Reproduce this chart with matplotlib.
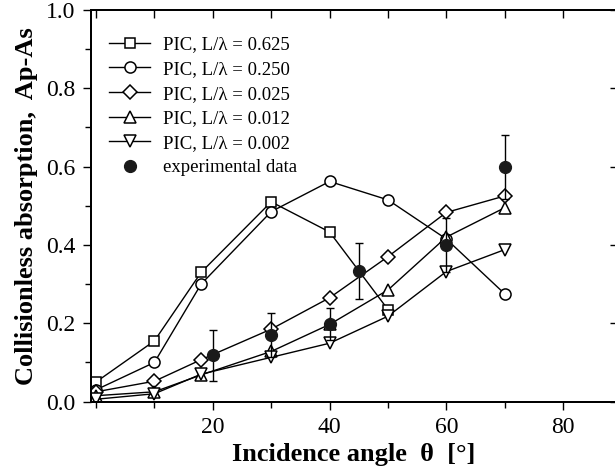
import matplotlib
matplotlib.use("Agg")
import matplotlib.pyplot as plt
from matplotlib.ticker import MultipleLocator, NullFormatter

plt.rcParams['font.family'] = ['Liberation Serif', 'DejaVu Serif']

# valores
angles = [0, 10, 18, 30, 40, 50, 60, 70]
pic_0625 = [0.05, 0.155, 0.33, 0.51, 0.433, 0.235]
pic_0250 = [0.03, 0.10, 0.30, 0.485, 0.562, 0.515, 0.415, 0.275]
pic_0025 = [0.025, 0.052, 0.107, 0.185, 0.265, 0.37, 0.483, 0.525]
pic_0012 = [0.015, 0.025, 0.068, 0.128, 0.197, 0.285, 0.42, 0.495]
pic_0002 = [0.006, 0.02, 0.07, 0.113, 0.149, 0.218, 0.332, 0.388]

exp_angles = [20, 30, 40, 45, 60, 70]
exp_values = [0.118, 0.17, 0.198, 0.334, 0.40, 0.598]
exp_errors = [0.065, 0.055, 0.042, 0.071, 0.07, 0.082]

fig = plt.figure(figsize=(6.15, 4.73), dpi=100)
ax = fig.add_axes([0.148, 0.151, 0.855, 0.828])

common = dict(color="black", lw=1.0, mfc="white", mec="black", mew=1.1)
ax.plot(angles[:len(pic_0625)], pic_0625, marker="s", ms=7.5, label="PIC, L/λ = 0.625", **common)
ax.plot(angles, pic_0250, marker="o", ms=8, label="PIC, L/λ = 0.250", **common)
ax.plot(angles, pic_0025, marker="D", ms=7, label="PIC, L/λ = 0.025", **common)
ax.plot(angles, pic_0012, marker="^", ms=9, label="PIC, L/λ = 0.012", **common)
ax.plot(angles, pic_0002, marker="v", ms=9, label="PIC, L/λ = 0.002", **common)
ax.errorbar(exp_angles, exp_values, yerr=exp_errors, fmt="none", ecolor="black",
            elinewidth=1.0, capsize=3, capthick=1.0, zorder=5)
ax.plot(exp_angles, exp_values, "o", ms=8.5, color="#1a1a1a",
        label="experimental data", zorder=6)

ax.set_xlim(-0.86, 89.2)
ax.set_ylim(0, 1.0)
ax.set_xticks([20, 40, 60, 80])
ax.xaxis.set_minor_locator(MultipleLocator(10))
ax.yaxis.set_major_locator(MultipleLocator(0.2))
ax.yaxis.set_minor_locator(MultipleLocator(0.1))
ax.yaxis.set_major_formatter(plt.FuncFormatter(lambda v, p: "%.1f" % v))

ax.tick_params(which="both", direction="out", labelsize=17, width=1.0, pad=5)
ax.tick_params(which="major", length=6)
ax.tick_params(which="minor", length=4)

# ticks de cima e da direita ficam para dentro
ax2 = ax.twiny()
ax2.set_xlim(ax.get_xlim())
ax2.xaxis.set_major_locator(MultipleLocator(20))
ax2.xaxis.set_minor_locator(MultipleLocator(10))
ax2.xaxis.set_major_formatter(NullFormatter())
ax2.tick_params(which="both", direction="in", length=6, width=1.0)

ax3 = ax.twinx()
ax3.set_ylim(ax.get_ylim())
ax3.yaxis.set_major_locator(MultipleLocator(0.2))
ax3.yaxis.set_major_formatter(NullFormatter())
ax3.tick_params(which="major", direction="in", length=5, width=1.0)
ax3.tick_params(which="minor", length=0)

for a in (ax, ax2, ax3):
    for spine in a.spines.values():
        spine.set_linewidth(1.2)

ax.set_xlabel("Incidence angle  θ  [°]", fontsize=19, fontweight="bold", labelpad=4)
ax.set_ylabel("Collisionless absorption,  Ap-As", fontsize=19, fontweight="bold", labelpad=6)

ax.legend(loc="upper left", bbox_to_anchor=(0.02, 0.952), frameon=False,
          fontsize=13.5, handlelength=2.2, handletextpad=0.7, labelspacing=0.4,
          borderaxespad=0)

fig.savefig("out.png", dpi=100)
